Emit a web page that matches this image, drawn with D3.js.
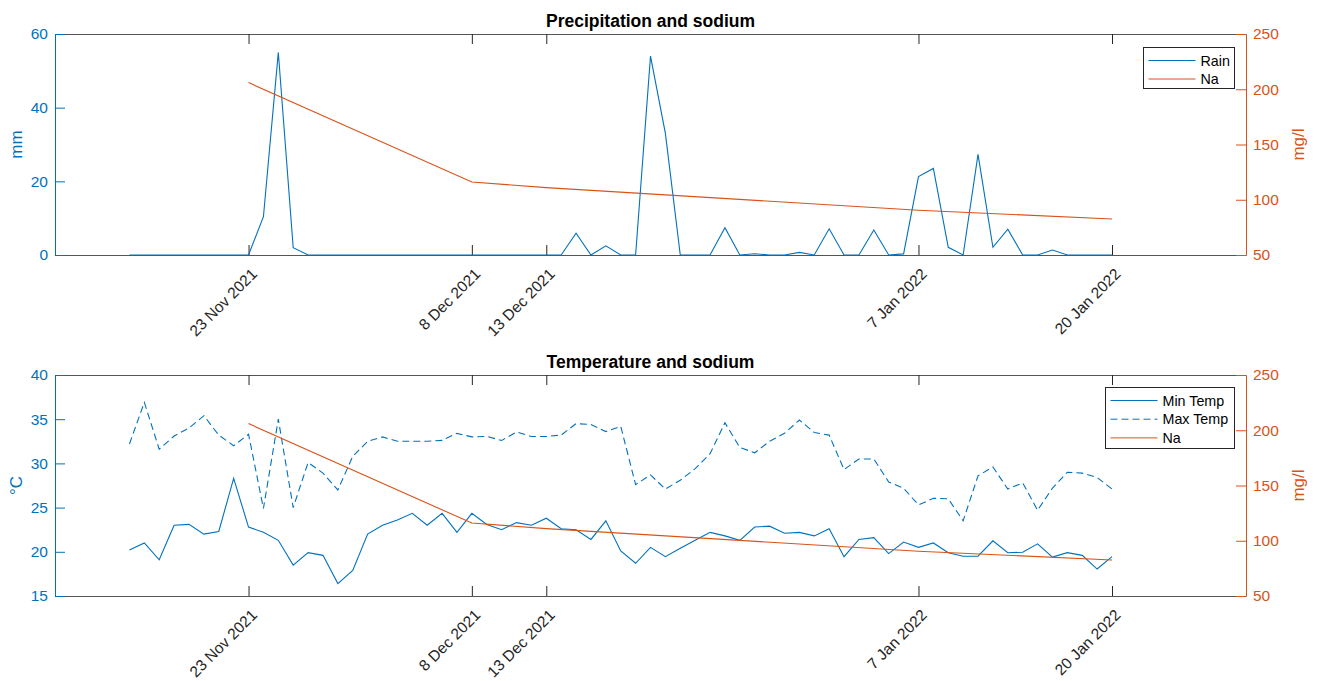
<!DOCTYPE html>
<html>
<head>
<meta charset="utf-8">
<script src="https://cdn.jsdelivr.net/npm/d3@7"></script>
<style>
  html, body { margin: 0; padding: 0; background: #fff; }
  svg { display: block; font-family: "Liberation Sans", Arial, Helvetica, sans-serif; }
</style>
</head>
<body>
<svg id="chart" width="1322" height="681"></svg>
<script>
// Daily weather record, 15 Nov 2021 – 20 Jan 2022 (one value per day)
const firstDay = "2021-11-15";

const rainMm = [
  0, 0, 0, 0, 0, 0, 0, 0, 0, 10.4, 55.0, 2.0, 0, 0, 0, 0,              // 15–30 Nov
  0, 0, 0, 0, 0, 0, 0, 0, 0, 0, 0, 0, 0, 0, 5.9, 0, 2.5, 0, 0,         // 1–19 Dec
  54.0, 33.0, 0, 0, 0, 7.4, 0, 0.35, 0, 0, 0.7, 0,                      // 20–31 Dec
  7.1, 0, 0, 6.8, 0, 0.3, 21.3, 23.5, 2.1, 0, 27.3, 2.1, 7.0, 0, 0,     // 1–15 Jan
  1.35, 0, 0, 0, 0                                                      // 16–20 Jan
];

const minTemp = [
  20.2, 21.0, 19.1, 23.0, 23.1, 22.0, 22.3, 28.3, 22.8, 22.2, 21.3, 18.5, 19.9, 19.6, 16.4, 17.9,
  22.0, 23.0, 23.6, 24.35, 23.0, 24.35, 22.2, 24.35, 23.1, 22.5, 23.3, 23.0, 23.8, 22.6, 22.5, 21.4,
  23.5, 20.1, 18.7, 20.5, 19.45, 20.4, 21.3, 22.2, 21.8, 21.3, 22.8, 22.9, 22.1, 22.2, 21.8,
  22.6, 19.45, 21.4, 21.6, 19.8, 21.1, 20.5, 21.0, 19.9, 19.5, 19.5, 21.25, 19.9, 19.95, 20.9,
  19.4, 19.9, 19.6, 18.05, 19.45
];

const maxTemp = [
  32.2, 36.9, 31.6, 33.1, 34.0, 35.4, 33.2, 32.0, 33.3, 24.9, 35.0, 25.0, 30.1, 28.9, 27.0, 30.8,
  32.5, 33.0, 32.5, 32.5, 32.5, 32.6, 33.4, 33.0, 33.05, 32.6, 33.55, 33.05, 33.05, 33.2, 34.5, 34.4,
  33.6, 34.2, 27.6, 28.7, 27.1, 28.1, 29.4, 31.1, 34.6, 31.8, 31.2, 32.5, 33.4, 34.9, 33.5,
  33.2, 29.3, 30.5, 30.5, 27.9, 27.2, 25.3, 26.05, 26.0, 23.5, 28.6, 29.6, 27.1, 27.8, 24.7,
  27.2, 29.0, 28.9, 28.4, 27.1
];

// Sodium samples (mg/l)
const naDates = ["2021-11-23", "2021-12-08", "2021-12-13", "2022-01-07", "2022-01-20"];
const naValues = [206, 116, 111, 90.5, 82.6];

// Axis ticks
const rainTicks = [0, 20, 40, 60];
const tempTicks = [15, 20, 25, 30, 35, 40];
const naTicks = [50, 100, 150, 200, 250];

const BLUE = "#0072BD", ORANGE = "#D95319", DARK = "#262626", FRAME = "#555";

const parse = d3.utcParse("%Y-%m-%d");
const day0 = parse(firstDay);
const days = rainMm.map((_, i) => d3.utcDay.offset(day0, i));
const naPts = naDates.map((d, i) => ({ date: parse(d), v: naValues[i] }));
const fmt = d3.utcFormat("%-d %b %Y");

const svg = d3.select("#chart");
const L = 55, R = 1246;

const x = d3.scaleUtc()
  .domain([parse("2021-11-10"), parse("2022-01-29")])
  .range([L, R]);

function panel(opt) {
  const { top, bottom, yLeft, leftTicks, leftLabel, title, series, legend } = opt;
  const yR = d3.scaleLinear().domain([50, 250]).range([bottom, top]);
  const g = svg.append("g");

  // frame top / bottom with date ticks
  const xb = g.append("g").attr("transform", `translate(0,${bottom})`)
    .call(d3.axisBottom(x).tickValues(naPts.map(p => p.date)).tickFormat(fmt)
      .tickSize(-10).tickSizeOuter(0).tickPadding(0));
  xb.select(".domain").attr("stroke", FRAME);
  xb.selectAll(".tick line").attr("stroke", DARK);
  xb.selectAll(".tick text")
    .attr("x", 0).attr("y", 0).attr("dy", null)
    .attr("transform", "translate(9,20) rotate(-45)")
    .style("text-anchor", "end")
    .attr("fill", DARK).attr("font-size", 15.5);
  xb.attr("font-family", null);

  const xt = g.append("g").attr("transform", `translate(0,${top})`)
    .call(d3.axisTop(x).tickValues(naPts.map(p => p.date)).tickFormat("")
      .tickSize(-10).tickSizeOuter(0));
  xt.select(".domain").attr("stroke", FRAME);
  xt.selectAll(".tick line").attr("stroke", DARK);

  // left axis
  const ya = g.append("g").attr("transform", `translate(${L},0)`)
    .call(d3.axisLeft(yLeft).tickValues(leftTicks).tickSize(-10).tickSizeOuter(0).tickPadding(7));
  ya.select(".domain").attr("stroke", BLUE);
  ya.selectAll(".tick line").attr("stroke", BLUE);
  ya.selectAll(".tick text").attr("fill", BLUE).attr("font-size", 15.5);
  ya.attr("font-family", null);

  // right axis
  const yb = g.append("g").attr("transform", `translate(${R},0)`)
    .call(d3.axisRight(yR).tickValues(naTicks).tickSize(-10).tickSizeOuter(0).tickPadding(7));
  yb.select(".domain").attr("stroke", ORANGE);
  yb.selectAll(".tick line").attr("stroke", ORANGE);
  yb.selectAll(".tick text").attr("fill", ORANGE).attr("font-size", 15.5);
  yb.attr("font-family", null);

  // axis labels
  g.append("text").attr("transform", `translate(22,${(top + bottom) / 2}) rotate(-90)`)
    .attr("text-anchor", "middle").attr("fill", BLUE).attr("font-size", 17).text(leftLabel);
  g.append("text").attr("transform", `translate(1304,${(top + bottom) / 2}) rotate(-90)`)
    .attr("text-anchor", "middle").attr("fill", ORANGE).attr("font-size", 17).text("mg/l");

  // title
  g.append("text").attr("x", (L + R) / 2).attr("y", top - 7)
    .attr("text-anchor", "middle").attr("font-weight", "bold").attr("font-size", 17.5)
    .attr("fill", "#000").text(title);

  // data lines
  series.forEach(s => {
    const line = d3.line().x(d => x(d[0])).y(d => yLeft(d[1]));
    g.append("path").datum(days.map((d, i) => [d, s.values[i]]))
      .attr("d", line).attr("fill", "none").attr("stroke", BLUE)
      .attr("stroke-width", 1.1).attr("stroke-dasharray", s.dash || null);
  });
  const naLine = d3.line().x(d => x(d.date)).y(d => yR(d.v));
  g.append("path").datum(naPts).attr("d", naLine)
    .attr("fill", "none").attr("stroke", ORANGE).attr("stroke-width", 1.1);

  // legend
  const lg = g.append("g");
  lg.append("rect").attr("x", legend.x).attr("y", legend.y)
    .attr("width", legend.w).attr("height", legend.h)
    .attr("fill", "#fff").attr("stroke", DARK).attr("stroke-width", 1);
  legend.items.forEach((it, i) => {
    const cy = legend.y + legend.first + i * legend.step;
    lg.append("line").attr("x1", legend.x + 5).attr("x2", legend.x + 5 + legend.len)
      .attr("y1", cy).attr("y2", cy).attr("stroke", it.color).attr("stroke-width", 1)
      .attr("stroke-dasharray", it.dash || null);
    lg.append("text").attr("x", legend.x + legend.len + 10).attr("y", cy)
      .attr("dy", "0.35em").attr("font-size", 14.3).attr("fill", "#000").text(it.label);
  });
}

panel({
  top: 34, bottom: 255,
  yLeft: d3.scaleLinear().domain([0, 60]).range([255, 34]),
  leftTicks: rainTicks, leftLabel: "mm",
  title: "Precipitation and sodium",
  series: [{ values: rainMm }],
  legend: { x: 1143.5, y: 47.5, w: 91, h: 41, len: 47, first: 13, step: 18.5,
    items: [{ label: "Rain", color: BLUE }, { label: "Na", color: ORANGE }] }
});

panel({
  top: 375, bottom: 596,
  yLeft: d3.scaleLinear().domain([15, 40]).range([596, 375]),
  leftTicks: tempTicks, leftLabel: "°C",
  title: "Temperature and sodium",
  series: [{ values: minTemp }, { values: maxTemp, dash: "7,4" }],
  legend: { x: 1105.5, y: 387.5, w: 129, h: 61, len: 47, first: 13, step: 18.7,
    items: [{ label: "Min Temp", color: BLUE }, { label: "Max Temp", color: BLUE, dash: "7,4" },
            { label: "Na", color: ORANGE }] }
});
</script>
</body>
</html>
